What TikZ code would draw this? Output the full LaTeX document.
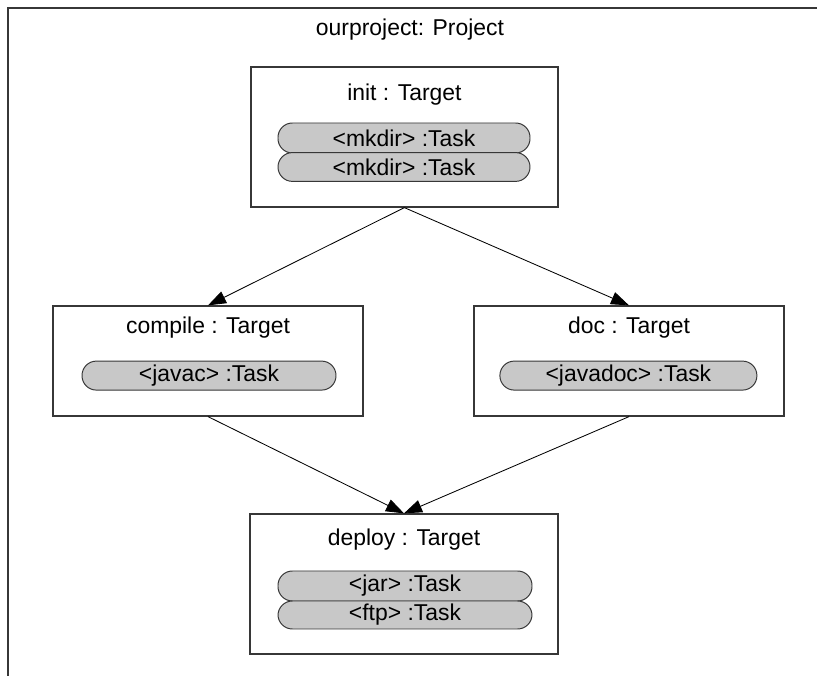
\documentclass[tikz,border=0pt]{standalone}
\usepackage{fontspec}
\setmainfont{Liberation Sans}
\usetikzlibrary{arrows.meta}
\definecolor{taskgray}{RGB}{200,200,200}
\definecolor{edgegray}{RGB}{55,55,55}
\tikzset{
	targetbox/.style={draw=edgegray, line width=0.9pt, shape=rectangle, fill=white},
	taskpill/.style={draw=edgegray, line width=0.7pt, fill=taskgray, shape=rectangle, rounded corners=0.36cm, inner sep=0pt},
	dep/.style={draw=black, line width=0.6pt, -{Triangle[length=0.45cm, width=0.32cm]}}
}
\begin{document}
\begin{tikzpicture}[font=\fontsize{16.3}{19}\selectfont]
						\useasboundingbox (0,0) rectangle (20.425,-16.9);
						\draw[edgegray, line width=1pt] (0.2,-16.9) -- (0.2,-0.2) -- (20.425,-0.2);
						\node (project) at (10.25,-0.75) {ourproject: Project};

						\node[targetbox, minimum width=7.675cm, minimum height=3.5cm] (init) at (10.11,-3.425) {};
						\node (init_title) at (10.11,-2.375) {init : Target};
						\node[taskpill, minimum width=6.3cm, minimum height=0.75cm] (init_task1) at (10.1,-3.45) {<mkdir> :Task};
						\node[taskpill, minimum width=6.3cm, minimum height=0.72cm] (init_task2) at (10.1,-4.175) {<mkdir> :Task};

						\node[targetbox, minimum width=7.75cm, minimum height=2.75cm] (compile) at (5.2,-9.025) {};
						\node (compile_title) at (5.2,-8.2) {compile : Target};
						\node[taskpill, minimum width=6.35cm, minimum height=0.725cm] (compile_task) at (5.225,-9.39) {<javac> :Task};

						\node[targetbox, minimum width=7.75cm, minimum height=2.75cm] (doc) at (15.725,-9.025) {};
						\node (doc_title) at (15.725,-8.2) {doc : Target};
						\node[taskpill, minimum width=6.425cm, minimum height=0.725cm] (doc_task) at (15.71,-9.39) {<javadoc> :Task};

						\node[targetbox, minimum width=7.7cm, minimum height=3.5cm] (deploy) at (10.1,-14.6) {};
						\node (deploy_title) at (10.1,-13.5) {deploy : Target};
						\node[taskpill, minimum width=6.35cm, minimum height=0.75cm] (deploy_task1) at (10.125,-14.65) {<jar> :Task};
						\node[taskpill, minimum width=6.35cm, minimum height=0.7cm] (deploy_task2) at (10.125,-15.375) {<ftp> :Task};

						\draw[dep] (init.south) -- (compile.north);
						\draw[dep] (init.south) -- (doc.north);
						\draw[dep] (compile.south) -- (deploy.north);
						\draw[dep] (doc.south) -- (deploy.north);
					\end{tikzpicture}
\end{document}
